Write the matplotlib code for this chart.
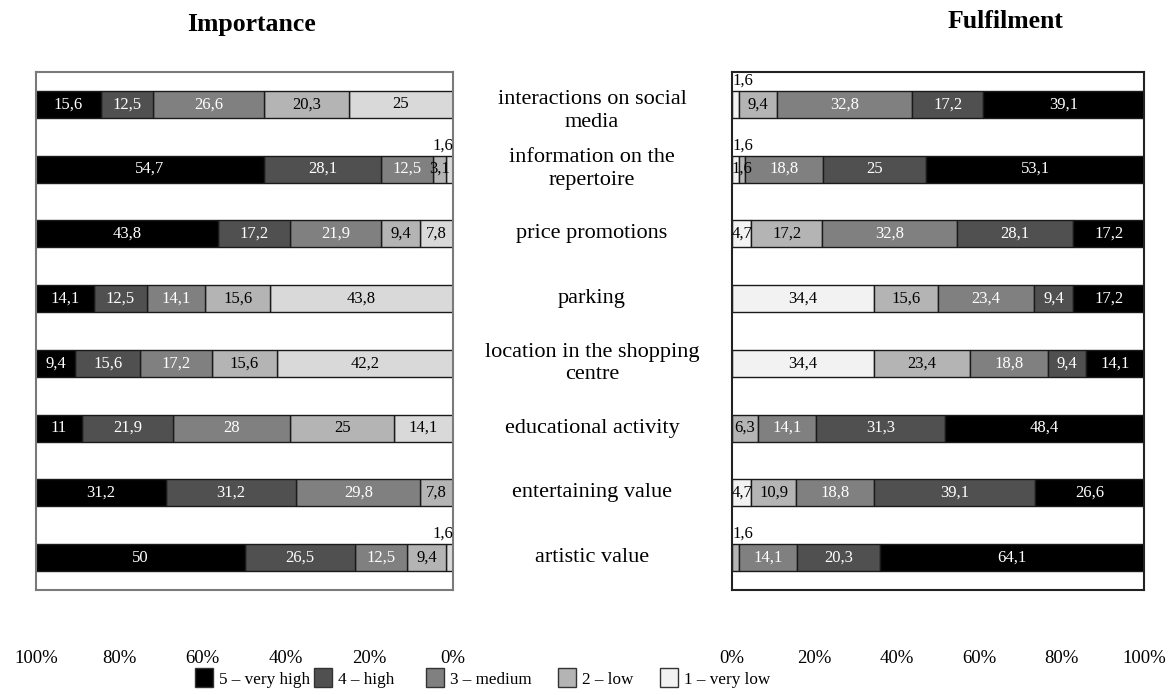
import numpy as np
import matplotlib
matplotlib.use('Agg')
import matplotlib.pyplot as plt
from matplotlib.patches import Patch
from matplotlib.transforms import blended_transform_factory

plt.rcParams['font.family'] = ['Liberation Serif', 'DejaVu Serif']

categories = ['interactions on social\nmedia', 'information on the\nrepertoire',
              'price promotions', 'parking', 'location in the shopping\ncentre',
              'educational activity', 'entertaining value', 'artistic value']

levels = ['5 – very high', '4 – high', '3 – medium', '2 – low', '1 – very low']

# shares (%) per level, rows in category order
importance = {
    '5': [15.6, 54.7, 43.8, 14.1, 9.4, 11, 31.2, 50],
    '4': [12.5, 28.1, 17.2, 12.5, 15.6, 21.9, 31.2, 26.5],
    '3': [26.6, 12.5, 21.9, 14.1, 17.2, 28, 29.8, 12.5],
    '2': [20.3, 3.1, 9.4, 15.6, 15.6, 25, 7.8, 9.4],
    '1': [25, 1.6, 7.8, 43.8, 42.2, 14.1, 0, 1.6],
}
fulfilment = {
    '5': [39.1, 53.1, 17.2, 17.2, 14.1, 48.4, 26.6, 64.1],
    '4': [17.2, 25, 28.1, 9.4, 9.4, 31.3, 39.1, 20.3],
    '3': [32.8, 18.8, 32.8, 23.4, 18.8, 14.1, 18.8, 14.1],
    '2': [9.4, 1.6, 17.2, 15.6, 23.4, 6.3, 10.9, 1.6],
    '1': [1.6, 1.6, 4.7, 34.4, 34.4, 0, 4.7, 0],
}

dark = {'5': '#000000', '4': '#505050', '3': '#808080', '2': '#b4b4b4'}
left_colors = dict(dark, **{'1': '#d9d9d9'})
right_colors = dict(dark, **{'1': '#f2f2f2'})

W, H = 1172, 695
fig = plt.figure(figsize=(W / 100, H / 100), dpi=100)
ax_l = fig.add_axes([36 / W, 1 - 590 / H, 417 / W, 518 / H])
ax_r = fig.add_axes([732 / W, 1 - 590 / H, 412 / W, 518 / H])

bar_h = 0.42
y = np.arange(len(categories))


def fmt(v):
    return ('%g' % v).replace('.', ',')


def draw(ax, data, colors, side):
    left = np.zeros(len(categories))
    for key in ['1', '2', '3', '4', '5']:
        vals = np.array(data[key], dtype=float)
        ax.barh(y, vals, left=left, height=bar_h, color=colors[key],
                edgecolor='#1a1a1a', linewidth=1, zorder=2)
        for i, v in enumerate(vals):
            if v == 0:
                continue
            outer = left[i] == 0
            if v < 2 and outer:
                # tiny outer slice: value sits above the bar
                ha = 'right' if side == 'left' else 'left'
                ax.text(0, y[i] - bar_h / 2 - 0.03, fmt(v), ha=ha, va='bottom',
                        fontsize=12, color='black', zorder=3)
            else:
                tc = 'white' if key in ('5', '4', '3') else 'black'
                ax.text(left[i] + v / 2, y[i], fmt(v), ha='center', va='center',
                        fontsize=12, color=tc, zorder=3)
        left += vals
    ax.set_ylim(len(categories) - 0.5, -0.5)
    ax.set_yticks([])
    ax.set_xticks(np.arange(0, 101, 20))
    ax.set_xticklabels(['%d%%' % t for t in range(0, 101, 20)], fontsize=13.5)
    ax.tick_params(axis='x', length=0, pad=43)


draw(ax_l, importance, left_colors, 'left')
draw(ax_r, fulfilment, right_colors, 'right')
ax_l.set_xlim(100, 0)
ax_r.set_xlim(0, 100)

for s in ax_l.spines.values():
    s.set_color('#7a7a7a')
    s.set_linewidth(1.5)
for s in ax_r.spines.values():
    s.set_color('#222222')
    s.set_linewidth(1.5)

# category names between the two panels
tr = blended_transform_factory(fig.transFigure, ax_l.transData)
for i, name in enumerate(categories):
    dy = 0.1 if i == 0 else 0
    fig.text(592 / W, y[i] + dy, name, transform=tr, ha='center', va='center',
             fontsize=16, linespacing=1.25)

fig.text(252 / W, 1 - 25 / H, 'Importance', ha='center', va='center',
         fontsize=18.5, fontweight='bold')
fig.text(1005 / W, 1 - 22 / H, 'Fulfilment', ha='center', va='center',
         fontsize=18.5, fontweight='bold')

# legend entries spaced one by one along the bottom
legend_x = [195, 314, 426, 558, 660]
for k, lab, lx in zip(['5', '4', '3', '2', '1'], levels, legend_x):
    h = Patch(facecolor=right_colors[k], edgecolor='#333333', linewidth=1)
    fig.legend([h], [lab], loc='center left', bbox_to_anchor=(lx / W, 1 - 678 / H),
               frameon=False, fontsize=12.3, handlelength=1.05, handleheight=1.3,
               handletextpad=0.35, borderpad=0, borderaxespad=0)

fig.savefig('out.png', dpi=100)
